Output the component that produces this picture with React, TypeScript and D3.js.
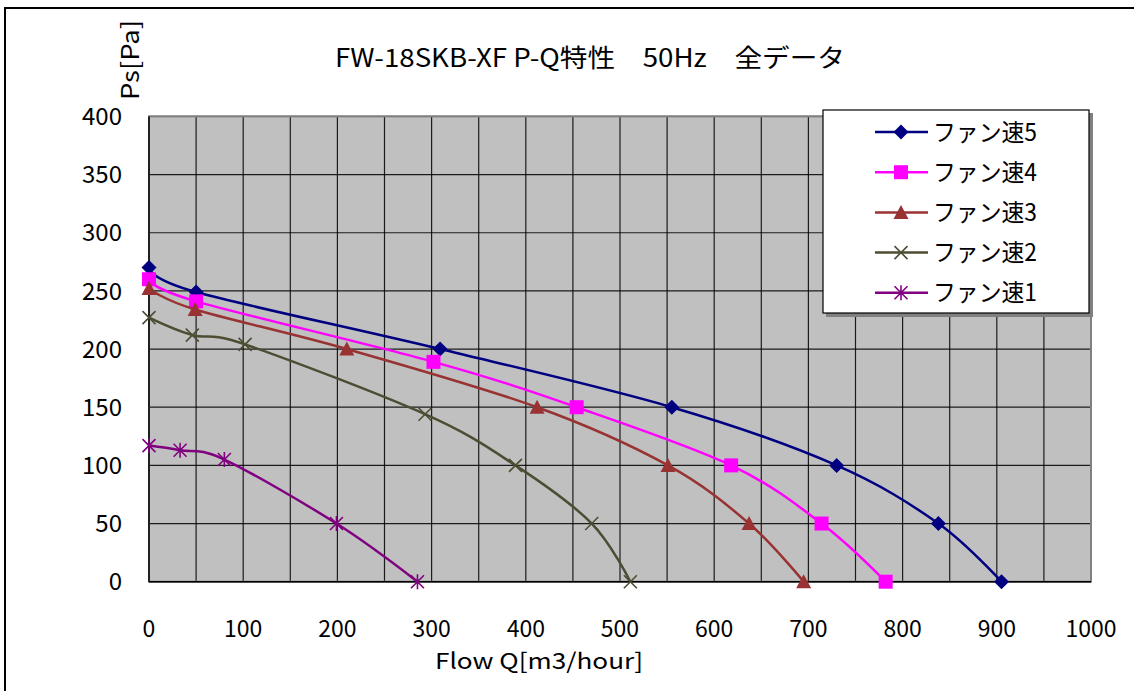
import React from "react";
import * as d3 from "d3";

const seriesNames = ["ファン速5", "ファン速4", "ファン速3", "ファン速2", "ファン速1"];
const fan5Q = [0, 50, 309, 555, 730, 838, 905];
const fan5P = [270, 249, 200, 150, 100, 50, 0];
const fan4Q = [0, 50, 302, 454, 618, 714, 782];
const fan4P = [260, 241, 189, 150, 100, 50, 0];
const fan3Q = [0, 49, 210, 412, 551, 637, 695];
const fan3P = [252, 234, 200, 150, 100, 50, 0];
const fan2Q = [0, 46, 102, 293, 389, 470, 511];
const fan2P = [227, 212, 204, 144, 100, 50, 0];
const fan1Q = [0, 33, 80, 199, 285];
const fan1P = [117, 113, 105, 50, 0];
const xTicks = [0, 100, 200, 300, 400, 500, 600, 700, 800, 900, 1000];
const yTicks = [0, 50, 100, 150, 200, 250, 300, 350, 400];
const xGrid = d3.range(0, 1001, 50);

const colors = ["#000080", "#FF00FF", "#993333", "#4D4D33", "#800080"];
const markers = ["diamond", "square", "triangle", "x", "star"];

const L = 149, R = 1091, T = 116.4, B = 581.7;
const x = d3.scaleLinear().domain([0, 1000]).range([L, R]);
const y = d3.scaleLinear().domain([0, 400]).range([B, T]);

function Marker({ type, cx, cy, color }: { type: string; cx: number; cy: number; color: string }) {
  if (type === "diamond") {
    const s = 7.5;
    return <path d={`M${cx},${cy - s}L${cx + s},${cy}L${cx},${cy + s}L${cx - s},${cy}Z`} fill={color} />;
  }
  if (type === "square") {
    const s = 7;
    return <rect x={cx - s} y={cy - s} width={2 * s} height={2 * s} fill={color} />;
  }
  if (type === "triangle") {
    const s = 7.5;
    return <path d={`M${cx},${cy - s}L${cx + s},${cy + s - 1}L${cx - s},${cy + s - 1}Z`} fill={color} />;
  }
  if (type === "x") {
    const s = 6.5;
    return (
      <path d={`M${cx - s},${cy - s}L${cx + s},${cy + s}M${cx - s},${cy + s}L${cx + s},${cy - s}`} stroke={color} strokeWidth={1.6} fill="none" />
    );
  }
  const s = 6.5;
  return (
    <path
      d={`M${cx - s},${cy - s}L${cx + s},${cy + s}M${cx - s},${cy + s}L${cx + s},${cy - s}M${cx},${cy - s - 1}L${cx},${cy + s + 1}`}
      stroke={color}
      strokeWidth={1.6}
      fill="none"
    />
  );
}

export default function App() {
  const series = [
    { q: fan5Q, p: fan5P },
    { q: fan4Q, p: fan4P },
    { q: fan3Q, p: fan3P },
    { q: fan2Q, p: fan2P },
    { q: fan1Q, p: fan1P },
  ];
  const line = d3
    .line<[number, number]>()
    .x((d) => x(d[0]))
    .y((d) => y(d[1]))
    .curve(d3.curveCardinal.tension(0));
  const font = "'Noto Sans CJK JP', 'Noto Sans', sans-serif";
  return (
    <svg width={1134} height={691} style={{ position: "absolute", left: 0, top: 0 }} fontFamily={font}>
      <rect x={0} y={0} width={1134} height={691} fill="white" />
      <rect x={5} y={8} width={1200} height={800} fill="white" stroke="black" strokeWidth={2} />
      <rect x={L} y={T} width={R - L} height={B - T} fill="#C0C0C0" />
      {xGrid.map((v) => (
        <line key={"gx" + v} x1={x(v)} x2={x(v)} y1={T} y2={B} stroke="#000" strokeWidth={1.2} opacity={0.85} />
      ))}
      {yTicks.map((v) => (
        <line key={"gy" + v} x1={L} x2={R} y1={y(v)} y2={y(v)} stroke="#000" strokeWidth={1.2} opacity={0.85} />
      ))}
      <rect x={L} y={T} width={R - L} height={B - T} fill="none" stroke="#808080" strokeWidth={2} />
      <line x1={L} x2={R} y1={B} y2={B} stroke="#000" strokeWidth={1.5} />
      <line x1={L} x2={L} y1={T} y2={B} stroke="#000" strokeWidth={1.5} />
      {yTicks.map((v) => (
        <text key={"ty" + v} x={122} y={y(v)} dy="0.36em" textAnchor="end" fontSize={24} fill="#000">
          {v}
        </text>
      ))}
      {xTicks.map((v) => (
        <text key={"tx" + v} x={x(v)} y={637} textAnchor="middle" fontSize={23} fill="#000">
          {v}
        </text>
      ))}
      <text x={335} y={67} fontSize={25} fill="#000" textLength={510} lengthAdjust="spacingAndGlyphs">
        FW-18SKB-XF P-Q特性　50Hz　全データ
      </text>
      <text x={435} y={669} fontSize={22} fill="#000" textLength={208} lengthAdjust="spacingAndGlyphs">
        Flow Q[m3/hour]
      </text>
      <text transform="translate(139,100) rotate(-90)" fontSize={24} fill="#000" textLength={80} lengthAdjust="spacingAndGlyphs">
        Ps[Pa]
      </text>
      {series.map((s, i) => {
        const pts = s.q.map((q, j) => [q, s.p[j]] as [number, number]);
        return (
          <g key={"s" + i}>
            <path d={line(pts) || ""} fill="none" stroke={colors[i]} strokeWidth={2.5} />
            {pts.map((d, j) => (
              <Marker key={j} type={markers[i]} cx={x(d[0])} cy={y(d[1])} color={colors[i]} />
            ))}
          </g>
        );
      })}
      <rect x={826} y={113} width={267} height={204} fill="#808080" />
      <rect x={823} y={110} width={266} height={203} fill="white" stroke="#000" strokeWidth={1.2} />
      {seriesNames.map((name, i) => {
        const cy = 132 + i * 40.2;
        return (
          <g key={"lg" + i}>
            <line x1={875} x2={928} y1={cy} y2={cy} stroke={colors[i]} strokeWidth={2.5} />
            <Marker type={markers[i]} cx={901} cy={cy} color={colors[i]} />
            <text x={933} y={cy} dy="0.36em" fontSize={24} fill="#000" textLength={104} lengthAdjust="spacingAndGlyphs">
              {name}
            </text>
          </g>
        );
      })}
    </svg>
  );
}
